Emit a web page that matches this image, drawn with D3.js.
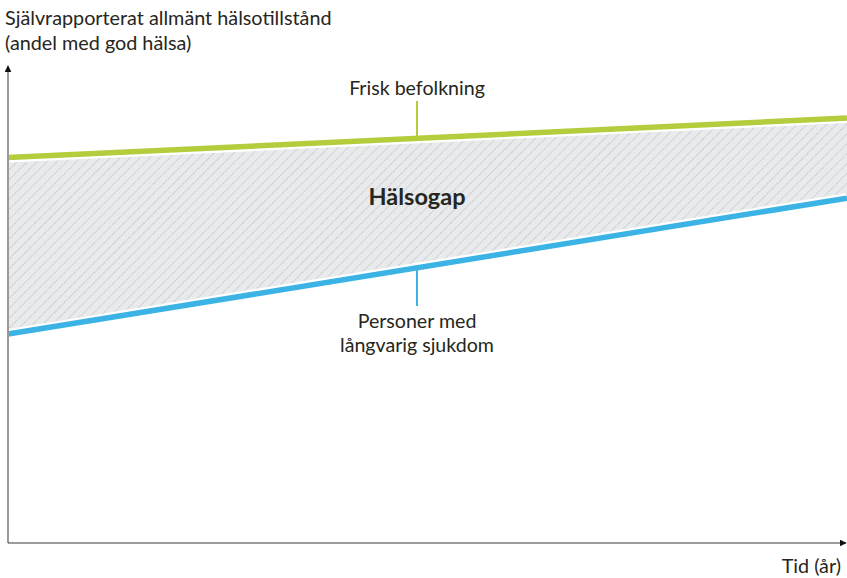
<!DOCTYPE html>
<html>
<head>
<meta charset="utf-8">
<script src="https://cdn.jsdelivr.net/npm/d3@7"></script>
<style>
  body { margin: 0; background: #fff; }
  text { font-family: Lato, "Open Sans", sans-serif; fill: #26261c; }
</style>
</head>
<body>
<div id="chart"></div>
<script>
// Data (conceptual: share with good health, 0-100)
const timePoints = [0, 10];
const healthyPop = [80.8, 89.1];
const chronicPop = [43.8, 72.3];
const yLabelLines = ["Självrapporterat allmänt hälsotillstånd", "(andel med god hälsa)"];
const xLabel = "Tid (år)";
const healthyLabel = ["Frisk befolkning"];
const chronicLabel = ["Personer med", "långvarig sjukdom"];
const gapLabel = "Hälsogap";

const width = 847, height = 578;
const green = "#b3cd3d";
const blue = "#3bb4e5";

var svg = d3.select("#chart").append("svg")
    .attr("width", width)
    .attr("height", height);

// axes geometry
const x0 = 8, y0 = 543;
var x = d3.scaleLinear().domain([0, 10]).range([x0, width]);
var y = d3.scaleLinear().domain([0, 100]).range([y0, 66]);

var rows = timePoints.map(function (t, i) {
    return {t: t, hi: healthyPop[i], lo: chronicPop[i]};
});

// hatch pattern
var defs = svg.append("defs");
var pat = defs.append("pattern")
    .attr("id", "hatch")
    .attr("patternUnits", "userSpaceOnUse")
    .attr("width", 7)
    .attr("height", 7)
    .attr("patternTransform", "rotate(45)");
pat.append("rect").attr("width", 7).attr("height", 7).attr("fill", "#e8eaec");
pat.append("line")
    .attr("x1", 0).attr("y1", 0).attr("x2", 0).attr("y2", 7)
    .attr("stroke", "#b4b7ba")
    .attr("stroke-width", 1.3)
    .attr("stroke-dasharray", "1.3,0.7");

defs.append("marker")
    .attr("id", "arrow")
    .attr("viewBox", "0 -5 10 10")
    .attr("refX", 9)
    .attr("refY", 0)
    .attr("markerUnits", "userSpaceOnUse")
    .attr("markerWidth", 7)
    .attr("markerHeight", 7)
    .attr("orient", "auto")
    .append("path")
    .attr("d", "M0,-5L10,0L0,5Z")
    .attr("fill", "#111");

// gap area
var area = d3.area()
    .x(function (d) { return x(d.t); })
    .y0(function (d) { return y(d.lo); })
    .y1(function (d) { return y(d.hi); });

svg.append("path")
    .datum(rows)
    .attr("d", area)
    .attr("fill", "url(#hatch)");

// lines with a white halo
function lineFor(key) {
    return d3.line()
        .x(function (d) { return x(d.t); })
        .y(function (d) { return y(d[key]); });
}

[["hi", green], ["lo", blue]].forEach(function (s) {
    svg.append("path")
        .datum(rows)
        .attr("d", lineFor(s[0]))
        .attr("fill", "none")
        .attr("stroke", "#fff")
        .attr("stroke-width", 10);
    svg.append("path")
        .datum(rows)
        .attr("d", lineFor(s[0]))
        .attr("fill", "none")
        .attr("stroke", s[1])
        .attr("stroke-width", 5.5);
});

// axes
svg.append("line")
    .attr("x1", x0).attr("y1", y0)
    .attr("x2", x0).attr("y2", 66)
    .attr("stroke", "#9a9a9a")
    .attr("stroke-width", 2)
    .attr("marker-end", "url(#arrow)");

svg.append("line")
    .attr("x1", x0).attr("y1", y0)
    .attr("x2", 846).attr("y2", y0)
    .attr("stroke", "#3a3a3a")
    .attr("stroke-width", 1.2)
    .attr("marker-end", "url(#arrow)");

// axis labels
svg.append("text")
    .attr("x", 5)
    .attr("y", 25)
    .style("font-size", "19.8px")
    .selectAll("tspan")
    .data(yLabelLines)
    .enter().append("tspan")
    .attr("x", 5)
    .attr("dy", function (d, i) { return i ? 25 : 0; })
    .text(function (d) { return d; });

svg.append("text")
    .attr("x", 841)
    .attr("y", 573)
    .attr("text-anchor", "end")
    .style("font-size", "19.8px")
    .text(xLabel);

// annotations
const labelX = 417;
var tx = x.invert(labelX);
function valAt(arr) {
    return arr[0] + (arr[1] - arr[0]) * (tx - timePoints[0]) / (timePoints[1] - timePoints[0]);
}

svg.append("line")
    .attr("x1", labelX).attr("x2", labelX)
    .attr("y1", 101).attr("y2", y(valAt(healthyPop)))
    .attr("stroke", green)
    .attr("stroke-width", 2);

svg.append("text")
    .attr("x", labelX)
    .attr("y", 95)
    .attr("text-anchor", "middle")
    .style("font-size", "19.6px")
    .text(healthyLabel[0]);

svg.append("line")
    .attr("x1", labelX).attr("x2", labelX)
    .attr("y1", y(valAt(chronicPop))).attr("y2", 306)
    .attr("stroke", blue)
    .attr("stroke-width", 2);

svg.append("text")
    .attr("y", 328)
    .attr("text-anchor", "middle")
    .style("font-size", "19.6px")
    .selectAll("tspan")
    .data(chronicLabel)
    .enter().append("tspan")
    .attr("x", labelX)
    .attr("dy", function (d, i) { return i ? 24 : 0; })
    .text(function (d) { return d; });

svg.append("text")
    .attr("x", labelX)
    .attr("y", 205)
    .attr("text-anchor", "middle")
    .style("font-size", "23.5px")
    .style("font-weight", "bold")
    .text(gapLabel);
</script>
</body>
</html>
